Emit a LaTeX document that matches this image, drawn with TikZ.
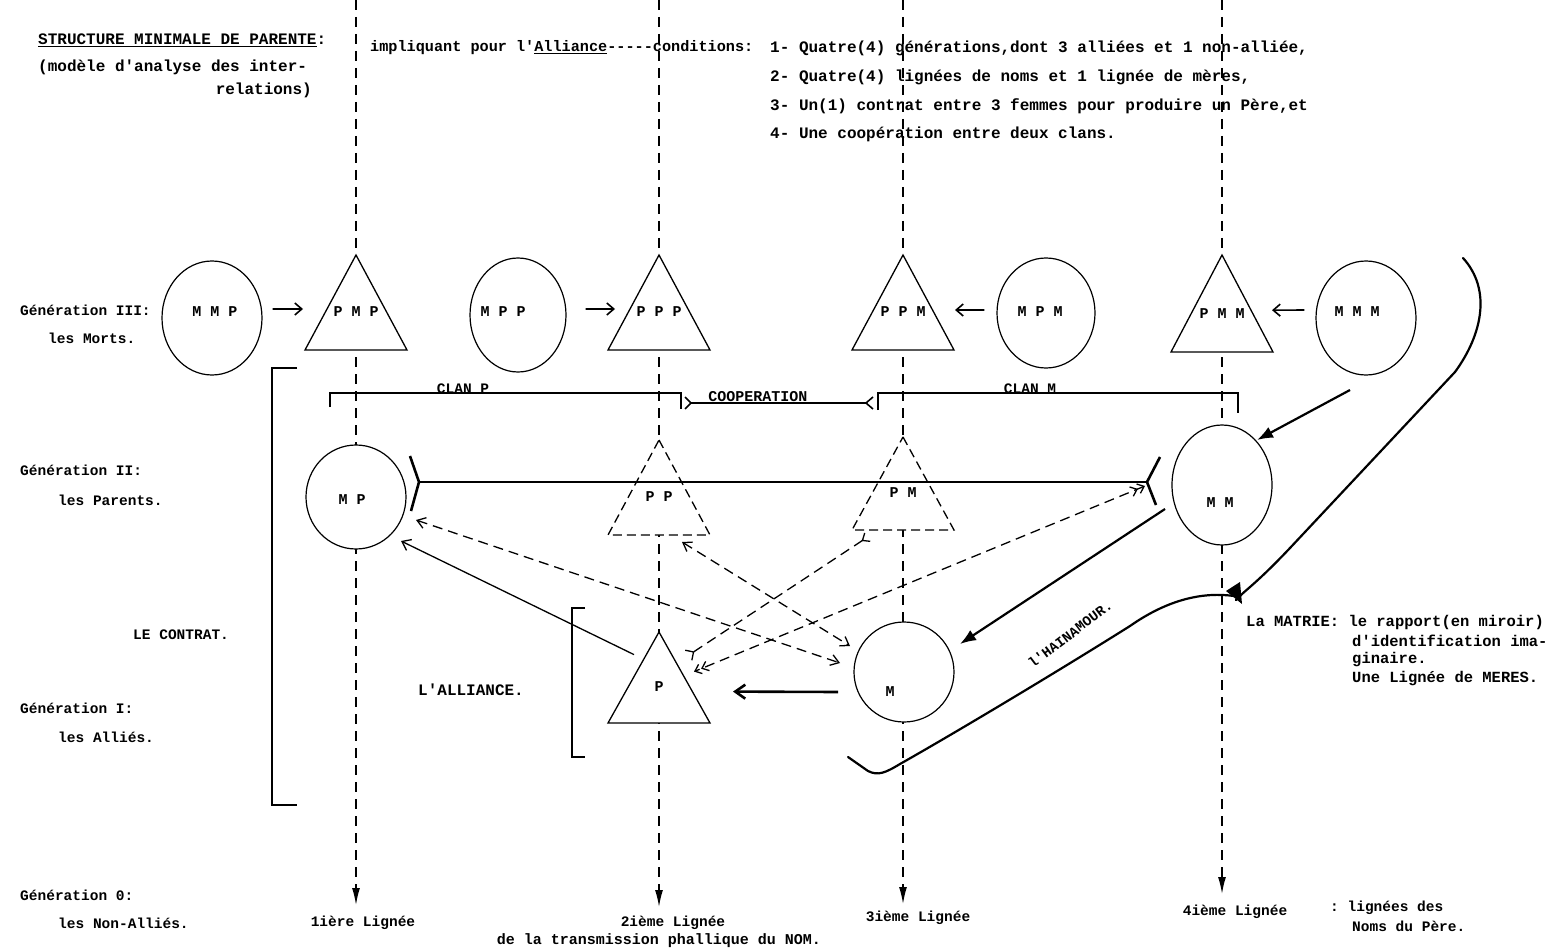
\documentclass[tikz,border=0pt]{standalone}
\usepackage{fontspec}
\setmonofont{Liberation Mono}
\usetikzlibrary{arrows.meta,shapes.geometric,calc}
\newcommand\fsz[1]{\ttfamily\bfseries\fontsize{#1}{#1}\selectfont}
\newcommand\trishape[6]{%
  \draw[#6] (#2,#3) coordinate (#1-a) -- ({#2+51},#4) coordinate (#1-r) -- ({#2-51},#4) coordinate (#1-l) -- cycle;
  \node[lab] (#1) at (#2,{#3+0.6*(#4-#3)}) {#5};}
\begin{document}
\begin{tikzpicture}[x=1pt,y=-1pt,
  vline/.style={line width=1.5pt,dash pattern=on 10pt off 7pt,-{Latex[length=17pt,width=8pt]}},
  circ/.style={draw,ellipse,fill=white,line width=1.2pt,inner sep=0pt},
  tri/.style={draw,fill=white,line width=1.3pt,line join=miter},
  dtri/.style={tri,dash pattern=on 9pt off 5pt},
  lab/.style={font=\fsz{15},inner sep=0pt},
  txt/.style={font=\fsz{16},inner sep=0pt,anchor=west},
  side/.style={font=\fsz{14.5},inner sep=0pt,anchor=west},
  dar/.style={line width=1.3pt,dash pattern=on 10pt off 6pt},
  sarr/.style={line width=1.6pt,-{Straight Barb[length=7pt,width=12pt]}},
  tarr/.style={line width=2.2pt,-{Latex[length=16pt,width=12pt]}},
  brk/.style={line width=1.5pt},
  fork/.style={line width=2.6pt,line join=miter}]
\useasboundingbox (0,0) rectangle (1564,952);

% lineages
\foreach \X/\Y in {356/905,659/907,903/904,1222/894}
  \draw[vline] (\X,0) -- (\X,\Y);

% Generation III
\node[circ,minimum width=100pt,minimum height=114pt] (MMP) at (212,318) {};
\node[lab] at (215,312) {M M P};
\trishape{PMP}{356}{255}{350}{P M P}{tri}
\node[circ,minimum width=96pt,minimum height=114pt] (MPP) at (518,315) {};
\node[lab] at (503,312) {M P P};
\trishape{PPP}{659}{255}{350}{P P P}{tri}
\trishape{PPM}{903}{255}{350}{P P M}{tri}
\node[circ,minimum width=98pt,minimum height=110pt] (MPM) at (1046,313) {};
\node[lab] at (1040,312) {M P M};
\trishape{PMM}{1222}{255}{352}{P M M}{tri}
\node[circ,minimum width=100pt,minimum height=114pt] (MMM) at (1366,318) {};
\node[lab] at (1357,312) {M M M};

\draw[sarr] ($(MMP.east)+(10,-9)$) -- ($(PMP)+(-53,-3)$);
\draw[sarr] ($(MPP.east)+(19,-6)$) -- ($(PPP)+(-44,-3)$);
\draw[sarr] ($(MPM.west)+(-12,-3)$) -- ($(PPM)+(52,-2)$);
\draw[sarr] ($(MMM.west)+(-11,-8)$) -- ($(PMM)+(50,-3)$);

% Generation II
\node[circ,minimum width=100pt,minimum height=104pt] (MP) at (356,497) {};
\node[lab] at (352,500) {M P};
\trishape{PP}{659}{440}{535}{P P}{dtri}
\trishape{PM}{903}{437}{530}{P M}{dtri}
\node[circ,minimum width=100pt,minimum height=120pt] (MM) at (1222,485) {};
\node[lab] at (1220,503) {M M};

% Generation I
\trishape{P}{659}{632}{723}{P}{tri}
\node[circ,minimum width=100pt,minimum height=100pt] (M) at (904,672) {};
\node[lab] at (890,692) {M};

% brackets
\draw[brk] (297,368) -- (272,368) -- (272,805) -- (297,805);
\draw[brk] (585,608) -- (572,608) -- (572,757) -- (585,757);
\draw[line width=1.4pt] (330,407) -- (330,393) -- (681,393) -- (681,409);
\draw[line width=1.4pt] (878,410) -- (878,393) -- (1238,393) -- (1238,413);
\node[font=\fsz{14.5},inner sep=0pt,anchor=south] (clanP) at (463,394) {CLAN P};
\node[font=\fsz{14.5},inner sep=0pt,anchor=south] (clanM) at (1030,394) {CLAN M};
\node[font=\fsz{15},inner sep=0pt,anchor=south] (coop) at (758,402) {COOPERATION};
\draw[line width=1.4pt] (691,403) -- (866,403);
\draw[line width=1.6pt] (685,397) -- (691,403) -- (685,409);
\draw[line width=1.6pt] (873,397) -- (866,403) -- (873,409);

% MP -- MM alliance line with forks
\draw[line width=1.5pt] ($(MP)+(63,-15)$) coordinate (fl) -- ($(MM)+(-75,-3)$) coordinate (fr);
\draw[fork] ($(fl)+(-9,-26)$) -- (fl) -- ($(fl)+(-8,29)$);
\draw[fork] ($(fr)+(13,-25)$) -- (fr) -- ($(fr)+(9,23)$);

% dashed exchanges
\draw[dar,{Straight Barb[length=8pt,width=11pt]}-{Straight Barb[length=8pt,width=11pt]}]
  ($(MP)+(60,23)$) -- ($(M)+(-64,-9)$);
\draw[dar,{Straight Barb[length=8pt,width=11pt]}-{Straight Barb[length=8pt,width=11pt]}]
  ($(PP)+(23,45)$) -- ($(M)+(-54,-26)$);
\draw[dar,{Straight Barb[length=6pt,width=10pt,reversed]}-{Straight Barb[length=6pt,width=12pt,reversed]}]
  ($(PM)+(-35,44)$) -- ($(P)+(29,-31)$);
\draw[dar,{Straight Barb[length=6pt,width=10pt]Straight Barb[length=6pt,width=10pt]}-{Straight Barb[length=6pt,width=10pt]Straight Barb[length=6pt,width=10pt]}]
  ($(MM)+(-77,1)$) -- ($(P)+(35,-15)$);

% solid connectors
\draw[line width=1.3pt,-{Straight Barb[length=8pt,width=12pt]}] ($(P)+(-25,-32)$) -- ($(MP)+(45,44)$);
\draw[line width=2.6pt,-{Straight Barb[length=10pt,width=14pt]}] ($(M)+(-66,20)$) -- ($(P)+(74,5)$);
\draw[tarr] ($(MM)+(-57,24)$) -- ($(M)+(56,-28)$);
\draw[tarr] ($(MMM)+(-16,72)$) -- ($(MM)+(35,-45)$);
\node[font=\fsz{14},inner sep=0pt,rotate=37] (hain) at (1070,634) {l'HAINAMOUR.};

% matrie curve
\draw[line width=2.2pt,line cap=round] (1463,258) .. controls (1492,290) and (1482,335) .. (1455,372)
  -- (1290,548) .. controls (1255,585) and (1245,590) .. (1236,600);
\draw[line width=2.2pt,line cap=round] (1234,596) .. controls (1205,592) and (1170,598) .. (1130,626)
  .. controls (1060,670) and (960,730) .. (900,764) .. controls (885,773) and (878,776) .. (868,771) -- (848,757);
\fill (1226,591) -- (1242,604) -- (1240,582) -- cycle;

% texts top
\node[txt] (title) at (38,40) {\underline{STRUCTURE MINIMALE DE PARENTE}:};
\node[txt] (sub1) at (38,67) {(modèle d'analyse des inter-};
\node[txt,anchor=east] (sub2) at (312,90) {relations)};
\node[font=\fsz{15.2},inner sep=0pt,anchor=west] (impl) at (370,48) {impliquant pour l'\underline{Alliance}-----conditions:};
\node[txt] (c1) at (770,48) {1- Quatre(4) générations,dont 3 alliées et 1 non-alliée,};
\node[txt] (c2) at (770,77) {2- Quatre(4) lignées de noms et 1 lignée de mères,};
\node[txt] (c3) at (770,106) {3- Un(1) contrat entre 3 femmes pour produire un Père,et};
\node[txt] (c4) at (770,134) {4- Une coopération entre deux clans.};

% side labels
\node[side] (g3) at (20,310) {Génération III:};
\node[side] (g3b) at (48,338) {les Morts.};
\node[side] (g2) at (20,470) {Génération II:};
\node[side] (g2b) at (58,500) {les Parents.};
\node[side] (contrat) at (133,635) {LE CONTRAT.};
\node[side] (g1) at (20,708) {Génération I:};
\node[side] (g1b) at (58,737) {les Alliés.};
\node[side] (g0) at (20,895) {Génération 0:};
\node[side] (g0b) at (58,923) {les Non-Alliés.};
\node[txt] (alliance) at (418,690) {L'ALLIANCE.};

% bottom
\node[font=\fsz{14.5},inner sep=0pt] (l1) at (363,923) {1ière Lignée};
\node[font=\fsz{14.5},inner sep=0pt] (l2) at (673,923) {2ième Lignée};
\node[font=\fsz{15},inner sep=0pt] (l2b) at (659,941) {de la transmission phallique du NOM.};
\node[font=\fsz{14.5},inner sep=0pt] (l3) at (918,918) {3ième Lignée};
\node[font=\fsz{14.5},inner sep=0pt] (l4) at (1235,912) {4ième Lignée};
\node[font=\fsz{14.5},inner sep=0pt,anchor=west] (nom1) at (1330,908) {: lignées des};
\node[font=\fsz{14.5},inner sep=0pt,anchor=west] (nom2) at (1352,926) {Noms du Père.};

% matrie text
\node[font=\fsz{15.5},inner sep=0pt,anchor=west] (mt1) at (1246,622) {La MATRIE: le rapport(en miroir)};
\node[font=\fsz{15.5},inner sep=0pt,anchor=west] (mt2) at (1352,641) {d'identification ima-};
\node[font=\fsz{15.5},inner sep=0pt,anchor=west] (mt3) at (1352,660) {ginaire.};
\node[font=\fsz{15.5},inner sep=0pt,anchor=west] (mt4) at (1352,679) {Une Lignée de MERES.};
\end{tikzpicture}
\end{document}
